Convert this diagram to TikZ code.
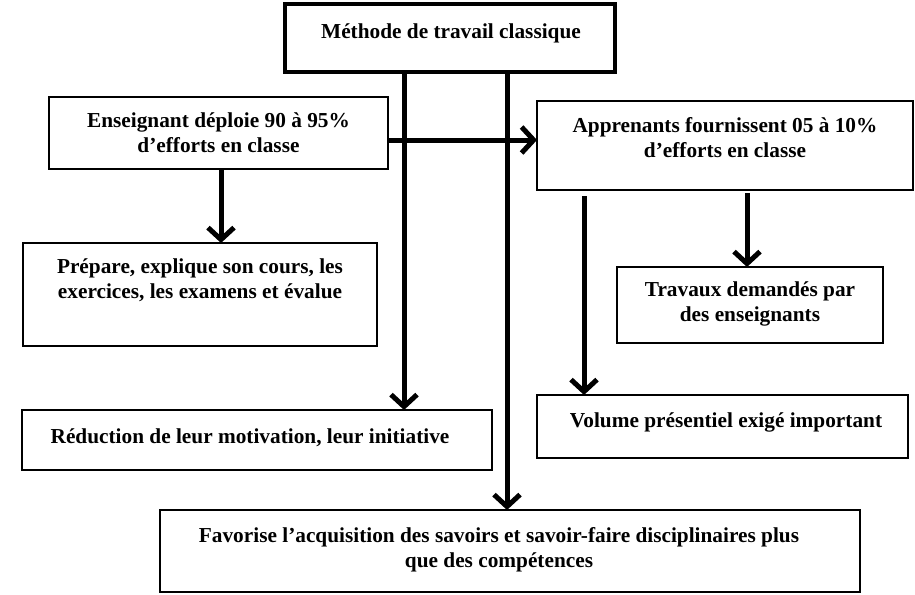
\documentclass[tikz,border=0pt]{standalone}
\usepackage{fontspec}
\setmainfont{Liberation Serif}
\usetikzlibrary{arrows.meta}
\begin{document}
\begin{tikzpicture}[x=1pt,y=-1pt,
  box/.style={draw, line width=2.7pt, inner sep=0pt, outer sep=0pt, anchor=north west},
  txt/.style={font=\fontsize{21.3}{25}\selectfont\bfseries, align=center, inner sep=0pt, anchor=base},
  flow/.style={line width=5pt, -{Straight Barb[length=12pt,width=26pt,line width=5pt]}}]
\useasboundingbox (0,0) rectangle (915,594);

% boxes
\node[box, line width=3.3pt, minimum width=330pt, minimum height=68pt] (top) at (285,4) {};
\node[box, minimum width=339pt, minimum height=72pt] (ens) at (49,97) {};
\node[box, minimum width=376pt, minimum height=89pt] (app) at (537,101) {};
\node[box, minimum width=354pt, minimum height=103pt] (prep) at (23,243) {};
\node[box, minimum width=266pt, minimum height=76pt] (trav) at (617,267) {};
\node[box, minimum width=470pt, minimum height=60pt] (red) at (22,410) {};
\node[box, minimum width=371pt, minimum height=63pt] (vol) at (537,395) {};
\node[box, minimum width=700pt, minimum height=82pt] (fav) at (160,510) {};

% texts (base anchor = baseline of the last line)
\node[txt] (topT) at (451,39) {Méthode de travail classique};
\node[txt] (ensT) at (218.5,152) {Enseignant déploie 90 à 95\%\\d’efforts en classe};
\node[txt] (appT) at (725,157) {Apprenants fournissent 05 à 10\%\\d’efforts en classe};
\node[txt] (prepT) at (200,298) {Prépare, explique son cours, les\\exercices, les examens et évalue};
\node[txt] (travT) at (750,321) {Travaux demandés par\\des enseignants};
\node[txt] (redT) at (250,443) {Réduction de leur motivation, leur initiative};
\node[txt] (volT) at (726,427) {Volume présentiel exigé important};
\node[txt] (favT) at (499,567) {Favorise l’acquisition des savoirs et savoir-faire disciplinaires plus\\que des compétences};

% connector guides
\coordinate (v1) at (404,0);
\coordinate (v2) at (507,0);
\coordinate (h) at (0,140);
\coordinate (a) at (221,0);
\coordinate (b) at (584,196);
\coordinate (c) at (747,193);

% connectors
\draw[flow] (top.south -| v1) -- (red.north -| v1);
\draw[flow] (top.south -| v2) -- (fav.north -| v2);
\draw[flow] (ens.east |- h) -- (app.west |- h);
\draw[flow] (ens.south -| a) -- (prep.north -| a);
\draw[flow] (b) -- (vol.north -| b);
\draw[flow] (c) -- (trav.north -| c);
\end{tikzpicture}
\end{document}
